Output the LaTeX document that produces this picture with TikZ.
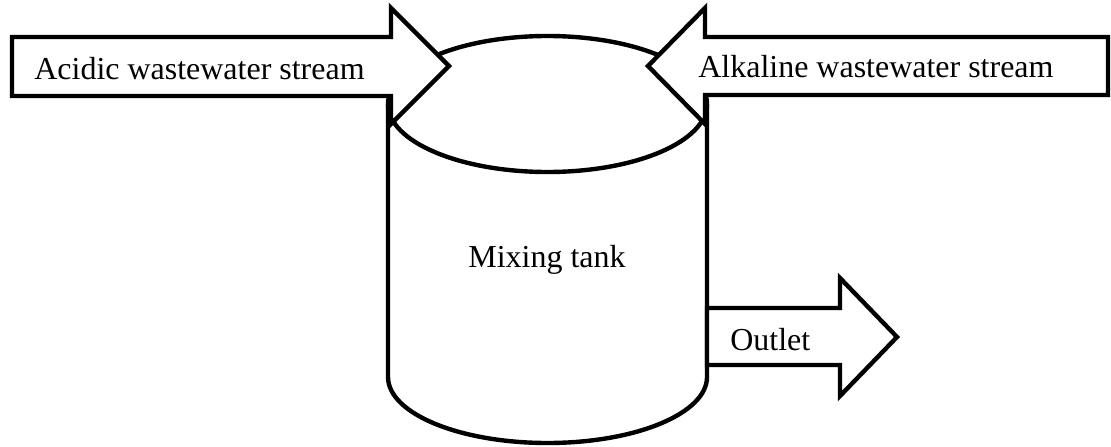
\documentclass[tikz,border=0pt]{standalone}
\usepackage{fontspec}
\setmainfont{Liberation Serif}
\begin{document}
\begin{tikzpicture}[x=0.02cm,y=-0.02cm,
  outline/.style={draw=black,line width=2.5pt,fill=white,line join=miter},
  lbl/.style={font=\fontsize{18.2}{21}\selectfont,inner sep=0pt,anchor=base west}]
\useasboundingbox (0,0) rectangle (1111,446);
% tank body
\draw[outline] (388,104) -- (388,377) arc[start angle=180,end angle=360,x radius=159.5,y radius=-66] -- (707,104);
\draw[outline] (547.5,104) ellipse[x radius=159.5,y radius=68];
% acidic inlet arrow
\draw[outline] (12,37) -- (391,37) -- (391,8) -- (449,66) -- (391,124) -- (391,96) -- (12,96) -- cycle;
% alkaline inlet arrow
\draw[outline] (1108,37) -- (705,37) -- (705,8) -- (648,66) -- (705,124) -- (705,95) -- (1108,95) -- cycle;
% outlet arrow
\draw[outline] (707,308) -- (840,308) -- (840,278) -- (897,337) -- (840,396) -- (840,365) -- (707,365) -- cycle;
\node[lbl] (acid) at (34,80) {Acidic wastewater stream};
\node[lbl] (alk) at (698,78) {Alkaline wastewater stream};
\node[lbl,anchor=base] (tank) at (547,267) {Mixing tank};
\node[lbl] (out) at (730,350) {Outlet};
\end{tikzpicture}
\end{document}
